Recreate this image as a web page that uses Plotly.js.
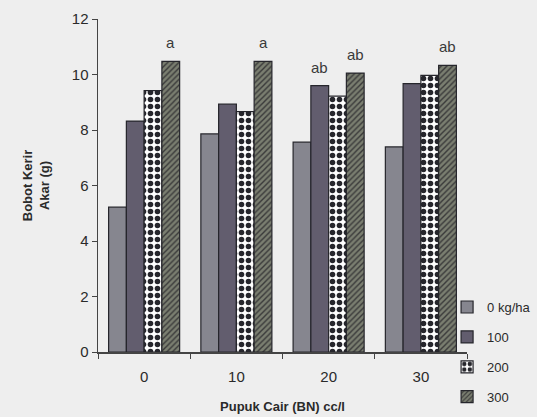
<!DOCTYPE html>
<html><head><meta charset="utf-8">
<script src="https://cdn.plot.ly/plotly-3.0.1.min.js"></script>
<style>body{margin:0;background:#eeeeee}#c{width:537px;height:417px}</style>
</head><body><div id="c"></div>
<script>
const categories = ["0", "10", "20", "30"];
const seriesNames = ["0 kg/ha", "100", "200", "300"];
const s0 = [5.22, 7.86, 7.56, 7.39];
const s100 = [8.32, 8.93, 9.60, 9.67];
const s200 = [9.42, 8.66, 9.22, 9.97];
const s300 = [10.47, 10.47, 10.05, 10.33];
const yTicks = [0, 2, 4, 6, 8, 10, 12];
// letter labels: [category index, series index, text]
const labelCat = [0, 1, 2, 2, 3];
const labelSeries = [3, 3, 1, 3, 3];
const labelText = ["a", "a", "ab", "ab", "ab"];

const FONT = "Liberation Sans";
const allSeries = [s0, s100, s200, s300];
const styles = [
  {color: "#86868f", pattern: {shape: ""}},
  {color: "#625d6e", pattern: {shape: ""}},
  {color: "#ffffff", pattern: {shape: ".", fgcolor: "#26262c", bgcolor: "#ffffff", size: 7, solidity: 0.5, fillmode: "replace"}},
  {color: "#6a6c60", pattern: {shape: "/", fgcolor: "#3a3a3a", bgcolor: "#7a7e70", size: 4, solidity: 0.35, fillmode: "replace"}}
];
const bargap = 0.23;
const traces = allSeries.map((vals, i) => ({
  type: "bar", x: categories, y: vals, name: seriesNames[i],
  legendgroup: "g" + i,
  marker: {color: styles[i].color, pattern: styles[i].pattern, line: {color: "#26262c", width: 1.2}},
  hoverinfo: "skip"
}));
const w = (1 - bargap) / 4;
const annotations = labelText.map((t, k) => ({
  x: labelCat[k] - (1 - bargap) / 2 + (labelSeries[k] + 0.5) * w,
  y: allSeries[labelSeries[k]][labelCat[k]],
  xref: "x", yref: "y", text: t, showarrow: false,
  yanchor: "bottom", yshift: 8,
  font: {family: FONT, size: 15, color: "#3a3a3a"}
}));
const layout = {
  width: 537, height: 417,
  paper_bgcolor: "#eeeeee", plot_bgcolor: "#eeeeee",
  margin: {l: 98, r: 70, t: 19, b: 65, autoexpand: false},
  barmode: "group", bargap: bargap, bargroupgap: 0,
  font: {family: FONT, color: "#333"},
  xaxis: {
    type: "category", showline: true, linecolor: "#444", linewidth: 1.5,
    ticks: "outside", tickson: "boundaries", ticklen: 5, tickcolor: "#444",
    ticklabelstandoff: 10,
    tickfont: {family: FONT, size: 15, color: "#2a2a2a"}, showgrid: false, zeroline: false,
    title: {text: "<b>Pupuk Cair (BN) cc/l</b>", font: {family: FONT, size: 13, color: "#2a2a2a"}, standoff: 18}
  },
  yaxis: {
    range: [0, 12], tickvals: yTicks, showline: true, linecolor: "#444", linewidth: 1.5,
    ticks: "outside", ticklen: 5, tickcolor: "#444",
    tickfont: {family: FONT, size: 15, color: "#2a2a2a"}, showgrid: false, zeroline: false,
    title: {text: "<b>Bobot Kerir<br>Akar (g)</b>", font: {family: FONT, size: 13, color: "#2a2a2a"}, standoff: 19}
  },
  showlegend: true,
  legend: {x: 0.946, xanchor: "left", y: 0.18, yanchor: "top", bgcolor: "rgba(0,0,0,0)",
    font: {family: FONT, size: 13, color: "#2a2a2a"}, tracegroupgap: 10, itemwidth: 30},
  annotations: annotations
};
Plotly.newPlot("c", traces, layout, {displayModeBar: false, staticPlot: true});
</script></body></html>
